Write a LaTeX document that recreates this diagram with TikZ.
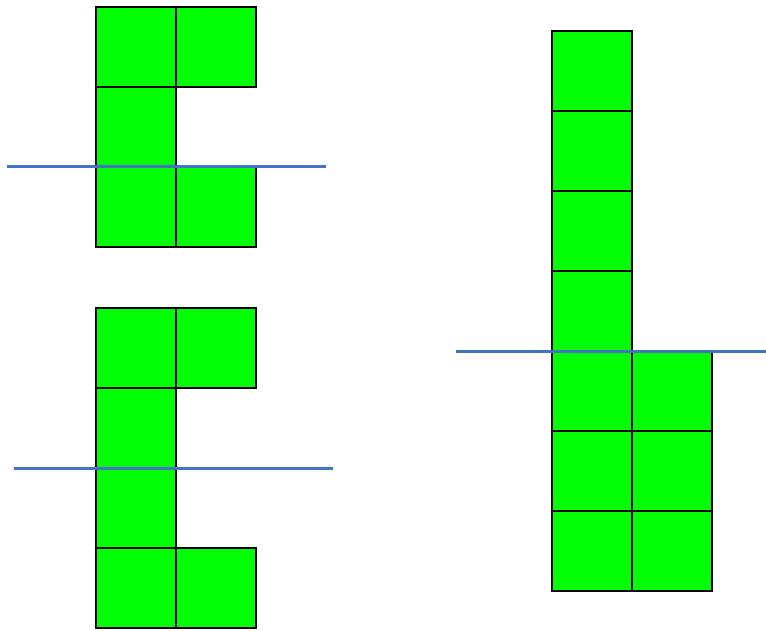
\documentclass[tikz,border=0pt]{standalone}
\usepackage{tikz}

\definecolor{cellgreen}{RGB}{0,255,0}
\definecolor{cutblue}{RGB}{68,114,196}

\tikzset{
    cell/.style={fill=cellgreen, draw=black, line width=1.1pt},
    cutline/.style={draw=cutblue, line width=1.7pt}
}

\begin{document}
\begin{tikzpicture}[x=0.02cm, y=-0.02cm]

    \useasboundingbox (0,0) rectangle (766,630);

    % Top left shape
    \foreach \x/\y in {96/7, 176/7, 96/87, 96/167, 176/167}
        \draw[cell] (\x,\y) rectangle ++(80,80);

    % Cut 1
    \coordinate (cutAa) at (7,166);
    \coordinate (cutAb) at (326,166);
    \draw[cutline] (cutAa) -- (cutAb);

    % Bottom left shape
    \foreach \x/\y in {96/308, 176/308, 96/388, 96/468, 96/548, 176/548}
        \draw[cell] (\x,\y) rectangle ++(80,80);

    % Cut 2
    \coordinate (cutBa) at (14,468);
    \coordinate (cutBb) at (333,468);
    \draw[cutline] (cutBa) -- (cutBb);

    % Right shape
    \foreach \y in {31,111,191,271,351,431,511}
        \draw[cell] (552,\y) rectangle ++(80,80);
    \foreach \y in {351,431,511}
        \draw[cell] (632,\y) rectangle ++(80,80);

    % Cut 3
    \coordinate (cutCa) at (456,351);
    \coordinate (cutCb) at (766,351);
    \draw[cutline] (cutCa) -- (cutCb);

\end{tikzpicture}
\end{document}
